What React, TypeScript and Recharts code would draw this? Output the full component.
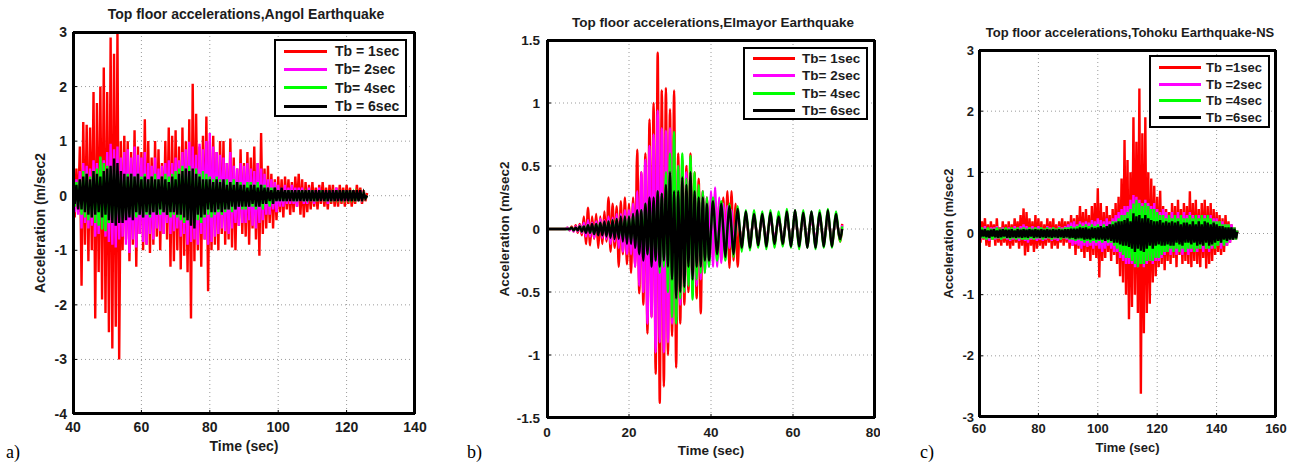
import {
  LineChart,
  Line,
  XAxis,
  YAxis,
  CartesianGrid,
  Legend,
  ReferenceLine,
} from 'recharts';

const FONT = '"Liberation Sans", Arial, Helvetica, sans-serif';
const TEXT = '#1c1c1c';
const COLORS = ['#ff0000', '#ff00ff', '#00ff00', '#000000'];

// (a) Angol earthquake, one sample every 0.5 s from t = 40 s
const angolStart = 40;
const angolStep = 0.5;
const angolTb1 = [
  0.1, -0.4, 0.5, -0.3, 0.9, -1.65, 1.35, -0.9, 1.3, -1.2, 1.25, -1.0, 1.9, -2.25, 1.7, -1.4, 2.0, -1.9, 2.35, -2.15,
  1.9, -2.5, 2.9, -2.8, 2.6, -2.4, 3.0, -3.0, 1.0, -1.0, 1.1, -0.8, 1.0, -1.2, 0.8, -0.9, 1.2, -1.3, 0.9, -0.7,
  0.8, -1.0, 1.4, -0.9, 1.0, -1.05, 0.7, -0.9, 1.0, -0.75, 0.85, -1.0, 0.6, -0.7, 1.0, -0.8, 1.25, -1.3, 1.1, -1.2,
  1.2, -1.0, 0.9, -1.35, 1.25, -1.1, 1.0, -1.4, 1.4, -2.25, 2.05, -1.2, 1.5, -1.0, 0.9, -1.3, 1.1, -0.8, 1.45, -1.75,
  1.0, -1.0, 1.1, -0.9, 0.8, -1.0, 1.0, -0.7, 1.0, -0.9, 0.6, -0.8, 1.05, -0.95, 0.7, -1.0, 0.5, -0.55, 0.85, -0.7,
  0.6, -0.75, 0.8, -0.9, 0.7, -0.6, 0.9, -0.8, 0.6, -1.1, 1.15, -0.7, 0.5, -0.6, 0.55, -0.5, 0.4, -0.6, 0.3, -0.45,
  0.35, -0.3, 0.3, -0.4, 0.35, -0.25, 0.3, -0.35, 0.25, -0.3, 0.35, -0.2, 0.4, -0.35, 0.3, -0.4, 0.25, -0.3, 0.2, -0.25,
  0.25, -0.2, 0.15, -0.25, 0.2, -0.15, 0.25, -0.2, 0.15, -0.25, 0.2, -0.15, 0.2, -0.2, 0.15, -0.2, 0.2, -0.15, 0.15, -0.2,
  0.2, -0.15, 0.15, -0.2, 0.1, -0.15, 0.2, -0.1, 0.15, -0.15, 0.1, -0.1, 0.05,
];
const angolTb2 = [
  0.1, -0.3, 0.3, -0.35, 0.45, -0.6, 0.6, -0.5, 0.55, -0.6, 0.5, -0.55, 0.65, -0.75, 0.6, -0.7, 0.7, -0.6, 0.65, -0.75,
  0.8, -0.85, 0.95, -0.9, 0.85, -0.95, 0.9, -0.8, 0.7, -0.75, 0.8, -0.9, 0.85, -1.05, 0.7, -0.8, 0.9, -0.95, 0.75, -0.7,
  0.7, -0.85, 0.8, -0.9, 0.6, -0.7, 0.55, -0.8, 0.7, -0.6, 0.5, -0.65, 0.55, -0.7, 0.6, -0.5, 0.65, -0.7, 0.6, -0.65,
  0.7, -0.6, 0.65, -0.75, 0.8, -0.7, 0.85, -0.9, 0.99, -0.85, 0.9, -0.8, 0.75, -0.9, 0.95, -0.7, 0.85, -0.8, 1.0, -0.9,
  1.15, -0.85, 0.9, -0.75, 0.8, -0.7, 0.75, -0.6, 0.7, -0.65, 0.6, -0.7, 0.8, -0.6, 0.55, -0.5, 0.5, -0.55, 0.6, -0.5,
  0.55, -0.5, 0.6, -0.45, 0.5, -0.55, 0.45, -0.6, 0.6, -0.5, 0.5, -0.45, 0.4, -0.35, 0.3, -0.35, 0.3, -0.25, 0.25, -0.3,
  0.2, -0.2, 0.15, -0.2, 0.2, -0.15, 0.15, -0.15, 0.2, -0.15, 0.15, -0.2, 0.15, -0.1, 0.15, -0.15, 0.1, -0.15, 0.15, -0.1,
  0.1, -0.15, 0.1, -0.1, 0.15, -0.1, 0.1, -0.1, 0.1, -0.15, 0.1, -0.1, 0.1, -0.1, 0.15, -0.1, 0.1, -0.1, 0.1, -0.1,
  0.1, -0.1, 0.1, -0.05, 0.1, -0.1, 0.05, -0.1, 0.1, -0.05, 0.05, -0.05, 0.0,
];
const angolTb4 = [
  0.05, -0.2, 0.25, -0.2, 0.3, -0.35, 0.45, -0.4, 0.4, -0.45, 0.35, -0.4, 0.45, -0.5, 0.5, -0.55, 0.72, -0.62, 0.6, -0.65,
  0.55, -0.5, 0.5, -0.45, 0.55, -0.5, 0.45, -0.4, 0.4, -0.45, 0.35, -0.4, 0.4, -0.35, 0.4, -0.4, 0.35, -0.4, 0.4, -0.35,
  0.35, -0.4, 0.4, -0.35, 0.3, -0.4, 0.35, -0.3, 0.4, -0.35, 0.3, -0.35, 0.35, -0.3, 0.4, -0.35, 0.35, -0.4, 0.4, -0.35,
  0.45, -0.4, 0.5, -0.45, 0.55, -0.5, 0.5, -0.45, 0.55, -0.5, 0.45, -0.55, 0.5, -0.45, 0.4, -0.5, 0.45, -0.4, 0.4, -0.35,
  0.35, -0.4, 0.3, -0.35, 0.35, -0.3, 0.3, -0.35, 0.25, -0.3, 0.3, -0.25, 0.25, -0.3, 0.3, -0.25, 0.25, -0.2, 0.25, -0.25,
  0.2, -0.25, 0.25, -0.2, 0.25, -0.2, 0.2, -0.25, 0.25, -0.2, 0.2, -0.25, 0.2, -0.15, 0.15, -0.2, 0.15, -0.15, 0.15, -0.1,
  0.1, -0.1, 0.1, -0.1, 0.1, -0.1, 0.1, -0.05, 0.1, -0.1, 0.05, -0.1, 0.1, -0.05, 0.1, -0.1, 0.05, -0.05, 0.1, -0.1,
  0.1, -0.1, 0.05, -0.1, 0.1, -0.05, 0.1, -0.1, 0.05, -0.1, 0.1, -0.05, 0.05, -0.1, 0.1, -0.05, 0.05, -0.05, 0.1, -0.05,
  0.05, -0.05, 0.1, -0.05, 0.05, -0.1, 0.05, -0.05, 0.05, -0.05, 0.05, -0.05, 0.0,
];
const angolTb6 = [
  0.0, -0.15, 0.2, -0.25, 0.3, -0.25, 0.35, -0.3, 0.4, -0.35, 0.3, -0.4, 0.45, -0.35, 0.4, -0.3, 0.35, -0.4, 0.45, -0.35,
  0.5, -0.45, 0.55, -0.5, 0.68, -0.55, 0.6, -0.5, 0.45, -0.5, 0.4, -0.45, 0.35, -0.4, 0.4, -0.45, 0.35, -0.3, 0.4, -0.35,
  0.3, -0.4, 0.35, -0.3, 0.3, -0.35, 0.35, -0.3, 0.3, -0.35, 0.3, -0.25, 0.35, -0.3, 0.3, -0.35, 0.25, -0.3, 0.35, -0.3,
  0.3, -0.35, 0.4, -0.35, 0.45, -0.4, 0.5, -0.45, 0.45, -0.55, 0.5, -0.6, 0.4, -0.35, 0.35, -0.4, 0.3, -0.35, 0.3, -0.25,
  0.3, -0.3, 0.25, -0.3, 0.3, -0.25, 0.25, -0.3, 0.3, -0.25, 0.2, -0.25, 0.25, -0.2, 0.2, -0.25, 0.25, -0.2, 0.2, -0.2,
  0.2, -0.2, 0.15, -0.2, 0.2, -0.15, 0.2, -0.2, 0.15, -0.2, 0.2, -0.15, 0.15, -0.15, 0.15, -0.1, 0.1, -0.15, 0.15, -0.1,
  0.1, -0.1, 0.15, -0.1, 0.1, -0.1, 0.1, -0.1, 0.1, -0.1, 0.1, -0.1, 0.1, -0.1, 0.1, -0.1, 0.1, -0.1, 0.1, -0.1,
  0.1, -0.1, 0.1, -0.1, 0.1, -0.1, 0.1, -0.1, 0.1, -0.1, 0.1, -0.1, 0.1, -0.1, 0.1, -0.1, 0.1, -0.1, 0.1, -0.1,
  0.1, -0.1, 0.1, -0.1, 0.1, -0.1, 0.1, -0.1, 0.1, -0.1, 0.05, -0.05, 0.0,
];
const angolLabels = ['Tb = 1sec', 'Tb= 2sec', 'Tb= 4sec', 'Tb = 6sec'];
const angolXTicks = [40, 60, 80, 100, 120, 140];
const angolYTicks = [-4, -3, -2, -1, 0, 1, 2, 3];

// (b) El Mayor earthquake, one sample every 0.5 s from t = 0 s
const elmayorStart = 0;
const elmayorStep = 0.5;
const elmayorTb1 = [
  0, 0, 0, 0, 0, 0, 0, 0, 0, 0, 0.01, -0.01, 0.02, -0.02, 0.03, -0.03, 0.04, -0.05, 0.1, -0.12,
  0.17, -0.13, 0.1, -0.08, 0.12, -0.15, 0.1, -0.12, 0.14, -0.1, 0.25, -0.18, 0.2, -0.15, 0.18, -0.3, 0.22, -0.2, 0.25, -0.28,
  0.2, -0.35, 0.25, -0.3, 0.63, -0.51, 0.45, -0.6, 0.6, -0.83, 0.87, -0.7, 1.0, -1.15, 1.4, -1.38, 1.1, -1.25, 1.12, -1.0,
  0.95, -0.85, 1.1, -1.1, 0.6, -0.75, 0.55, -0.6, 0.5, -0.5, 0.6, -0.45, 0.45, -0.55, 0.4, -0.67, 0.3, -0.3, 0.25, -0.25,
  0.2, -0.22, 0.23, -0.2, 0.2, -0.25, 0.25, -0.2, 0.3, -0.31, 0.3, -0.25, 0.2, -0.3, 0, -0.12, 0, 0.1, 0, -0.12,
  0, 0.1, 0, -0.12, 0, 0.1, 0, -0.12, 0, 0.11, 0, -0.12, 0, 0.1, 0, -0.13, 0, 0.1, 0, -0.12,
  0, 0.11, 0, -0.12, 0, 0.1, 0, -0.13, 0, 0.1, 0, -0.12, 0, 0.11, 0, -0.12, 0, 0.1, 0, -0.13,
  0, 0.1, 0, -0.1, 0.04,
];
const elmayorTb2 = [
  0, 0, 0, 0, 0, 0, 0, 0, 0, 0, 0.01, -0.01, 0.01, -0.02, 0.02, -0.02, 0.03, -0.03, 0.05, -0.06,
  0.07, -0.06, 0.05, -0.07, 0.06, -0.05, 0.08, -0.07, 0.07, -0.08, 0.1, -0.12, 0.09, -0.1, 0.12, -0.15, 0.12, -0.18, 0.15, -0.2,
  0.15, -0.2, 0.2, -0.3, 0.3, -0.45, 0.45, -0.5, 0.55, -0.75, 0.66, -0.7, 0.75, -0.98, 0.94, -0.9, 0.8, -0.98, 0.78, -0.9,
  0.8, -0.75, 0.7, -0.7, 0.5, -0.6, 0.47, -0.5, 0.45, -0.45, 0.4, -0.5, 0.35, -0.45, 0.3, -0.4, 0.3, -0.35, 0.25, -0.3,
  0.3, -0.3, 0.33, -0.3, 0.25, -0.27, 0.2, -0.2, 0.18, -0.15, 0.15, -0.15, 0, 0.12, 0, -0.12, 0, 0.1, 0, -0.1,
  0, 0.08, 0, -0.09, 0, 0.08, 0, -0.1, 0, 0.09, 0, -0.08, 0, 0.08, 0, -0.1, 0, 0.09, 0, -0.09,
  0, 0.09, 0, -0.1, 0, 0.08, 0, -0.09, 0, 0.09, 0, -0.1, 0, 0.08, 0, -0.09, 0, 0.1, 0, -0.09,
  0, 0.08, 0, -0.08, 0.03,
];
const elmayorTb4 = [
  0, 0, 0, 0, 0, 0, 0, 0, 0, 0, 0, 0, 0.01, -0.01, 0.01, -0.01, 0.02, -0.02, 0.02, -0.02,
  0.03, -0.03, 0.03, -0.04, 0.04, -0.03, 0.05, -0.04, 0.05, -0.05, 0.06, -0.06, 0.07, -0.06, 0.08, -0.07, 0.08, -0.08, 0.1, -0.08,
  0.1, -0.1, 0.12, -0.1, 0.12, -0.15, 0.15, -0.12, 0.2, -0.2, 0.18, -0.2, 0.2, -0.25, 0.3, -0.35, 0.28, -0.3, 0.45, -0.5,
  0.6, -0.7, 0.77, -0.75, 0.5, -0.55, 0.6, -0.5, 0.4, -0.45, 0.58, -0.56, 0.45, -0.4, 0.35, -0.35, 0.3, -0.35, 0.25, -0.3,
  0, 0.25, 0, -0.25, 0, 0.22, 0, -0.25, 0, 0.2, 0, -0.22, 0, 0.18, 0, -0.18, 0, 0.15, 0, -0.17,
  0, 0.15, 0, -0.15, 0, 0.14, 0, -0.16, 0, 0.15, 0, -0.15, 0, 0.14, 0, -0.14, 0, 0.16, 0, -0.15,
  0, 0.15, 0, -0.16, 0, 0.15, 0, -0.15, 0, 0.14, 0, -0.16, 0, 0.15, 0, -0.15, 0, 0.16, 0, -0.15,
  0, 0.14, 0, -0.1, 0.02,
];
const elmayorTb6 = [
  0, 0, 0, 0, 0, 0, 0, 0, 0, 0, 0, 0, 0.01, -0.01, 0.01, -0.01, 0.02, -0.02, 0.02, -0.03,
  0.03, -0.03, 0.04, -0.04, 0.04, -0.05, 0.05, -0.05, 0.06, -0.06, 0.06, -0.07, 0.07, -0.08, 0.08, -0.08, 0.1, -0.1, 0.1, -0.12,
  0.1, -0.12, 0.12, -0.15, 0.15, -0.2, 0.15, -0.25, 0.2, -0.2, 0.25, -0.3, 0.25, -0.25, 0.3, -0.3, 0.28, -0.25, 0.35, -0.3,
  0.45, -0.4, 0.3, -0.55, 0.3, -0.5, 0.41, -0.46, 0.35, -0.3, 0.45, -0.4, 0.3, -0.3, 0.25, -0.3, 0.25, -0.25, 0.2, -0.25,
  0, 0.22, 0, -0.2, 0, 0.2, 0, -0.22, 0, 0.18, 0, -0.2, 0, 0.16, 0, -0.15, 0, 0.14, 0, -0.15,
  0, 0.12, 0, -0.13, 0, 0.12, 0, -0.14, 0, 0.13, 0, -0.12, 0, 0.1, 0, -0.12, 0, 0.14, 0, -0.14,
  0, 0.15, 0, -0.14, 0, 0.13, 0, -0.15, 0, 0.14, 0, -0.15, 0, 0.13, 0, -0.14, 0, 0.15, 0, -0.14,
  0, 0.12, 0, -0.08, 0,
];
const elmayorLabels = ['Tb= 1sec', 'Tb= 2sec', 'Tb= 4sec', 'Tb= 6sec'];
const elmayorXTicks = [0, 20, 40, 60, 80];
const elmayorYTicks = [-1.5, -1, -0.5, 0, 0.5, 1, 1.5];

// (c) Tohoku earthquake NS, one sample every 0.5 s from t = 60 s
const tohokuStart = 60;
const tohokuStep = 0.5;
const tohokuTb1 = [
  0.1, -0.15, 0.2, -0.1, 0.25, -0.2, 0.15, -0.22, 0.2, -0.1, 0.15, -0.2, 0.25, -0.15, 0.1, -0.2, 0.2, -0.15, 0.15, -0.2,
  0.2, -0.25, 0.15, -0.2, 0.25, -0.15, 0.2, -0.25, 0.3, -0.2, 0.41, -0.36, 0.35, -0.3, 0.25, -0.2, 0.2, -0.3, 0.3, -0.25,
  0.25, -0.2, 0.2, -0.25, 0.15, -0.2, 0.25, -0.15, 0.2, -0.25, 0.25, -0.2, 0.15, -0.25, 0.2, -0.15, 0.25, -0.2, 0.2, -0.15,
  0.2, -0.25, 0.3, -0.2, 0.25, -0.35, 0.3, -0.25, 0.45, -0.3, 0.35, -0.4, 0.4, -0.3, 0.3, -0.45, 0.45, -0.35, 0.5, -0.4,
  0.74, -0.72, 0.5, -0.45, 0.35, -0.4, 0.45, -0.3, 0.3, -0.45, 0.4, -0.35, 0.5, -0.5, 0.6, -0.7, 0.9, -0.8, 1.53, -1.0,
  1.2, -1.4, 1.0, -1.2, 1.9, -1.0, 1.5, -1.3, 2.37, -2.62, 1.64, -1.63, 1.9, -1.3, 1.0, -1.15, 0.9, -0.8, 0.78, -0.7,
  0.6, -0.55, 0.7, -0.5, 0.45, -0.6, 0.4, -0.45, 0.35, -0.5, 0.5, -0.4, 0.45, -0.55, 0.55, -0.35, 0.4, -0.5, 0.5, -0.45,
  0.45, -0.5, 0.69, -0.55, 0.5, -0.45, 0.55, -0.5, 0.4, -0.55, 0.5, -0.4, 0.55, -0.57, 0.45, -0.5, 0.5, -0.45, 0.4, -0.35,
  0.35, -0.3, 0.3, -0.35, 0.25, -0.3, 0.3, -0.2, 0.2, -0.15, 0.15, -0.1, 0.1, -0.1, 0.05,
];
const tohokuTb2 = [
  0.05, -0.1, 0.1, -0.08, 0.12, -0.1, 0.08, -0.12, 0.1, -0.08, 0.1, -0.1, 0.12, -0.08, 0.08, -0.1, 0.1, -0.08, 0.08, -0.1,
  0.1, -0.12, 0.08, -0.1, 0.12, -0.1, 0.1, -0.12, 0.12, -0.1, 0.15, -0.12, 0.12, -0.15, 0.1, -0.1, 0.12, -0.1, 0.1, -0.12,
  0.12, -0.1, 0.1, -0.12, 0.08, -0.1, 0.12, -0.08, 0.1, -0.12, 0.1, -0.1, 0.08, -0.12, 0.12, -0.1, 0.1, -0.08, 0.12, -0.1,
  0.15, -0.15, 0.18, -0.2, 0.2, -0.18, 0.15, -0.2, 0.2, -0.25, 0.18, -0.2, 0.2, -0.22, 0.18, -0.2, 0.22, -0.25, 0.2, -0.2,
  0.25, -0.25, 0.22, -0.3, 0.2, -0.25, 0.25, -0.2, 0.2, -0.25, 0.25, -0.3, 0.3, -0.3, 0.35, -0.4, 0.4, -0.45, 0.45, -0.5,
  0.45, -0.5, 0.55, -0.5, 0.63, -0.55, 0.6, -0.55, 0.55, -0.5, 0.5, -0.55, 0.55, -0.5, 0.5, -0.45, 0.45, -0.5, 0.5, -0.45,
  0.4, -0.45, 0.35, -0.4, 0.4, -0.35, 0.35, -0.3, 0.3, -0.35, 0.35, -0.3, 0.3, -0.35, 0.35, -0.3, 0.3, -0.35, 0.35, -0.3,
  0.3, -0.35, 0.35, -0.3, 0.3, -0.3, 0.25, -0.3, 0.3, -0.25, 0.25, -0.3, 0.3, -0.25, 0.25, -0.3, 0.3, -0.25, 0.25, -0.2,
  0.25, -0.2, 0.2, -0.25, 0.2, -0.2, 0.15, -0.2, 0.15, -0.15, 0.15, -0.1, 0.1, -0.1, 0.05,
];
const tohokuTb4 = [
  0.05, -0.08, 0.1, -0.08, 0.08, -0.1, 0.1, -0.08, 0.08, -0.1, 0.08, -0.08, 0.1, -0.08, 0.08, -0.1, 0.08, -0.08, 0.1, -0.08,
  0.08, -0.1, 0.1, -0.08, 0.08, -0.1, 0.1, -0.08, 0.08, -0.1, 0.1, -0.1, 0.08, -0.1, 0.1, -0.08, 0.08, -0.1, 0.1, -0.08,
  0.08, -0.08, 0.1, -0.1, 0.08, -0.08, 0.1, -0.08, 0.08, -0.1, 0.1, -0.08, 0.08, -0.08, 0.1, -0.1, 0.08, -0.08, 0.1, -0.08,
  0.1, -0.1, 0.12, -0.1, 0.1, -0.12, 0.12, -0.1, 0.15, -0.12, 0.12, -0.15, 0.15, -0.12, 0.12, -0.15, 0.15, -0.12, 0.12, -0.15,
  0.15, -0.12, 0.12, -0.15, 0.15, -0.12, 0.12, -0.15, 0.15, -0.15, 0.2, -0.2, 0.2, -0.25, 0.25, -0.3, 0.3, -0.35, 0.3, -0.4,
  0.35, -0.4, 0.4, -0.45, 0.49, -0.5, 0.55, -0.55, 0.5, -0.5, 0.45, -0.5, 0.5, -0.45, 0.45, -0.44, 0.4, -0.45, 0.4, -0.4,
  0.35, -0.4, 0.3, -0.35, 0.3, -0.3, 0.25, -0.3, 0.3, -0.25, 0.25, -0.3, 0.3, -0.25, 0.25, -0.3, 0.3, -0.25, 0.25, -0.3,
  0.25, -0.25, 0.3, -0.25, 0.25, -0.3, 0.3, -0.25, 0.25, -0.25, 0.3, -0.2, 0.25, -0.25, 0.3, -0.25, 0.25, -0.2, 0.2, -0.25,
  0.2, -0.2, 0.2, -0.15, 0.15, -0.2, 0.15, -0.15, 0.15, -0.1, 0.1, -0.1, 0.1, -0.1, 0.05,
];
const tohokuTb6 = [
  0.02, -0.06, 0.06, -0.05, 0.07, -0.06, 0.05, -0.07, 0.06, -0.05, 0.07, -0.06, 0.05, -0.07, 0.06, -0.06, 0.07, -0.05, 0.06, -0.07,
  0.06, -0.07, 0.07, -0.06, 0.05, -0.07, 0.07, -0.06, 0.06, -0.07, 0.07, -0.06, 0.06, -0.07, 0.07, -0.05, 0.06, -0.07, 0.07, -0.06,
  0.06, -0.07, 0.07, -0.06, 0.06, -0.07, 0.07, -0.06, 0.06, -0.07, 0.07, -0.06, 0.06, -0.07, 0.07, -0.06, 0.06, -0.07, 0.07, -0.06,
  0.07, -0.08, 0.08, -0.07, 0.08, -0.09, 0.08, -0.08, 0.1, -0.08, 0.09, -0.1, 0.1, -0.09, 0.08, -0.1, 0.1, -0.08, 0.09, -0.1,
  0.1, -0.1, 0.12, -0.1, 0.1, -0.12, 0.12, -0.1, 0.15, -0.12, 0.15, -0.15, 0.18, -0.15, 0.2, -0.18, 0.2, -0.2, 0.22, -0.2,
  0.25, -0.22, 0.2, -0.25, 0.33, -0.3, 0.28, -0.25, 0.3, -0.28, 0.25, -0.3, 0.3, -0.25, 0.25, -0.2, 0.22, -0.25, 0.2, -0.2,
  0.2, -0.18, 0.22, -0.2, 0.18, -0.2, 0.2, -0.18, 0.18, -0.2, 0.2, -0.2, 0.18, -0.15, 0.2, -0.18, 0.15, -0.2, 0.18, -0.15,
  0.18, -0.15, 0.15, -0.18, 0.2, -0.15, 0.15, -0.2, 0.2, -0.18, 0.15, -0.2, 0.2, -0.15, 0.18, -0.2, 0.15, -0.18, 0.18, -0.15,
  0.15, -0.12, 0.12, -0.15, 0.12, -0.1, 0.1, -0.12, 0.1, -0.1, 0.1, -0.1, 0.08, -0.08, 0.03,
];
const tohokuLabels = ['Tb =1sec', 'Tb =2sec', 'Tb =4sec', 'Tb =6sec'];
const tohokuXTicks = [60, 80, 100, 120, 140, 160];
const tohokuYTicks = [-3, -2, -1, 0, 1, 2, 3];

function buildRows(start: number, step: number, series: number[][]) {
  const n = Math.max(...series.map((s) => s.length));
  const rows: Record<string, number>[] = [];
  for (let i = 0; i < n; i++) {
    const row: Record<string, number> = { t: start + i * step };
    series.forEach((s, k) => {
      if (i < s.length) row['s' + k] = s[i];
    });
    rows.push(row);
  }
  return rows;
}

type LegendBox = {
  left: number;
  top: number;
  width: number;
  height: number;
  rowH: number;
  padTop: number;
  lineLeft: number;
  lineLen: number;
  gap: number;
};

type PanelProps = {
  left: number;
  width: number;
  marginTop: number;
  marginRight: number;
  yWidth: number;
  xHeight: number;
  fs: number;
  title: string;
  titleTop: number;
  titleCx: number;
  tag: string;
  tagLeft: number;
  rows: Record<string, number>[];
  labels: string[];
  xTicks: number[];
  yTicks: number[];
  xTickMargin: number;
  yTickMargin: number;
  yLabelOffset: number;
  xLabelOffset: number;
  curve: 'linear' | 'monotone';
  legend: LegendBox;
};

const HEIGHT = 465;
const EDGE = { stroke: '#000', strokeWidth: 2, ifOverflow: 'visible' as const };

function Panel(p: PanelProps) {
  const xDomain = [p.xTicks[0], p.xTicks[p.xTicks.length - 1]];
  const yDomain = [p.yTicks[0], p.yTicks[p.yTicks.length - 1]];
  const tickStyle = { fontSize: p.fs, fontWeight: 'bold', fill: TEXT, fontFamily: FONT };
  const lg = p.legend;
  const plotW = p.width - p.yWidth - p.marginRight;
  const plotH = HEIGHT - p.marginTop - p.xHeight;

  const renderLegend = () => (
    <div
      style={{
        boxSizing: 'border-box',
        width: lg.width,
        height: lg.height,
        border: '2px solid #000',
        background: '#fff',
        paddingTop: lg.padTop,
        fontFamily: FONT,
        fontWeight: 'bold',
        fontSize: p.fs,
        color: TEXT,
      }}
    >
      {p.labels.map((label, i) => (
        <div
          key={label}
          style={{ display: 'flex', alignItems: 'center', height: lg.rowH, whiteSpace: 'nowrap' }}
        >
          <span
            style={{
              display: 'inline-block',
              marginLeft: lg.lineLeft,
              width: lg.lineLen,
              height: 3,
              background: COLORS[i],
            }}
          />
          <span style={{ marginLeft: lg.gap }}>{label}</span>
        </div>
      ))}
    </div>
  );

  return (
    <div style={{ position: 'absolute', left: p.left, top: 0, width: p.width, height: HEIGHT }}>
      <div
        style={{
          position: 'absolute',
          left: p.titleCx - p.left - 200,
          top: p.titleTop,
          width: 400,
          textAlign: 'center',
          fontFamily: FONT,
          fontWeight: 'bold',
          fontSize: p.fs,
          lineHeight: `${p.fs}px`,
          color: TEXT,
          whiteSpace: 'nowrap',
        }}
      >
        {p.title}
      </div>
      <div
        style={{
          position: 'absolute',
          left: p.tagLeft - p.left,
          top: 443,
          fontFamily: '"Liberation Serif", "Times New Roman", serif',
          fontSize: 18,
          lineHeight: '18px',
          color: '#000',
        }}
      >
        {p.tag}
      </div>
      {/* plot frame, just inside the plot box */}
      <div
        style={{
          position: 'absolute',
          zIndex: 30,
          boxSizing: 'border-box',
          left: p.yWidth,
          top: p.marginTop,
          width: plotW,
          height: plotH,
          border: '2px solid #000',
          pointerEvents: 'none',
        }}
      />
      <div style={{ position: 'absolute', left: 0, top: 0 }}>
        <LineChart
          width={p.width}
          height={HEIGHT}
          data={p.rows}
          margin={{ top: p.marginTop, right: p.marginRight, left: 0, bottom: 0 }}
        >
          <CartesianGrid stroke="#9a9a9a" strokeDasharray="1 3" />
          <XAxis
            dataKey="t"
            type="number"
            domain={xDomain}
            ticks={p.xTicks}
            allowDataOverflow
            height={p.xHeight}
            axisLine={false}
            tickSize={-4}
            tickLine={{ stroke: '#000' }}
            tickMargin={p.xTickMargin}
            tick={tickStyle}
            label={{
              value: 'Time (sec)',
              position: 'insideBottom',
              offset: p.xLabelOffset,
              style: { fontSize: p.fs, fontWeight: 'bold', fill: TEXT, fontFamily: FONT },
            }}
          />
          <YAxis
            type="number"
            domain={yDomain}
            ticks={p.yTicks}
            allowDataOverflow
            width={p.yWidth}
            axisLine={false}
            tickSize={-4}
            tickLine={{ stroke: '#000' }}
            tickMargin={p.yTickMargin}
            tick={tickStyle}
            label={{
              value: 'Acceleration (m/sec2',
              angle: -90,
              position: 'insideLeft',
              offset: p.yLabelOffset,
              style: {
                textAnchor: 'middle',
                fontSize: p.fs,
                fontWeight: 'bold',
                fill: TEXT,
                fontFamily: FONT,
              },
            }}
          />
          {p.labels.map((label, i) => (
            <Line
              key={label}
              dataKey={'s' + i}
              name={label}
              type={p.curve}
              stroke={COLORS[i]}
              strokeWidth={2.4}
              dot={false}
              isAnimationActive={false}
            />
          ))}
          <ReferenceLine x={xDomain[0]} {...EDGE} />
          <ReferenceLine x={xDomain[1]} {...EDGE} />
          <ReferenceLine y={yDomain[0]} {...EDGE} />
          <ReferenceLine y={yDomain[1]} {...EDGE} />
          <Legend
            verticalAlign="middle"
            align="center"
            content={renderLegend}
            wrapperStyle={{ top: lg.top, left: lg.left, width: lg.width, height: lg.height }}
          />
        </LineChart>
      </div>
    </div>
  );
}

export default function App() {
  const angolRows = buildRows(angolStart, angolStep, [angolTb1, angolTb2, angolTb4, angolTb6]);
  const elmayorRows = buildRows(elmayorStart, elmayorStep, [elmayorTb1, elmayorTb2, elmayorTb4, elmayorTb6]);
  const tohokuRows = buildRows(tohokuStart, tohokuStep, [tohokuTb1, tohokuTb2, tohokuTb4, tohokuTb6]);

  return (
    <div
      style={{
        position: 'absolute',
        left: 0,
        top: 0,
        width: 1296,
        height: HEIGHT,
        background: '#fff',
        overflow: 'hidden',
      }}
    >
      <Panel
        left={0}
        width={440}
        marginTop={32}
        marginRight={25}
        yWidth={73}
        xHeight={51}
        fs={14}
        title="Top floor accelerations,Angol Earthquake"
        titleTop={7}
        titleCx={246}
        tag="a)"
        tagLeft={6}
        rows={angolRows}
        labels={angolLabels}
        xTicks={angolXTicks}
        yTicks={angolYTicks}
        xTickMargin={12}
        yTickMargin={10}
        yLabelOffset={40}
        xLabelOffset={14}
        curve="linear"
        legend={{ left: 274, top: 39, width: 133, height: 78, rowH: 18.3, padTop: 1, lineLeft: 8, lineLen: 43, gap: 8 }}
      />
      <Panel
        left={440}
        width={440}
        marginTop={40}
        marginRight={5}
        yWidth={107}
        xHeight={47}
        fs={13.5}
        title="Top floor accelerations,Elmayor Earthquake"
        titleTop={16}
        titleCx={713}
        tag="b)"
        tagLeft={467}
        rows={elmayorRows}
        labels={elmayorLabels}
        xTicks={elmayorXTicks}
        yTicks={elmayorYTicks}
        xTickMargin={13}
        yTickMargin={11}
        yLabelOffset={64}
        xLabelOffset={10}
        curve="monotone"
        legend={{ left: 303, top: 47, width: 125, height: 73, rowH: 17.3, padTop: 1, lineLeft: 8, lineLen: 42, gap: 7 }}
      />
      <Panel
        left={880}
        width={416}
        marginTop={50}
        marginRight={20}
        yWidth={99}
        xHeight={48}
        fs={13}
        title="Top floor accelerations,Tohoku Earthquake-NS"
        titleTop={26}
        titleCx={1130}
        tag="c)"
        tagLeft={920}
        rows={tohokuRows}
        labels={tohokuLabels}
        xTicks={tohokuXTicks}
        yTicks={tohokuYTicks}
        xTickMargin={11}
        yTickMargin={9}
        yLabelOffset={68}
        xLabelOffset={13}
        curve="linear"
        legend={{ left: 269, top: 55, width: 121, height: 73, rowH: 16.7, padTop: 2, lineLeft: 8, lineLen: 42, gap: 5 }}
      />
    </div>
  );
}
